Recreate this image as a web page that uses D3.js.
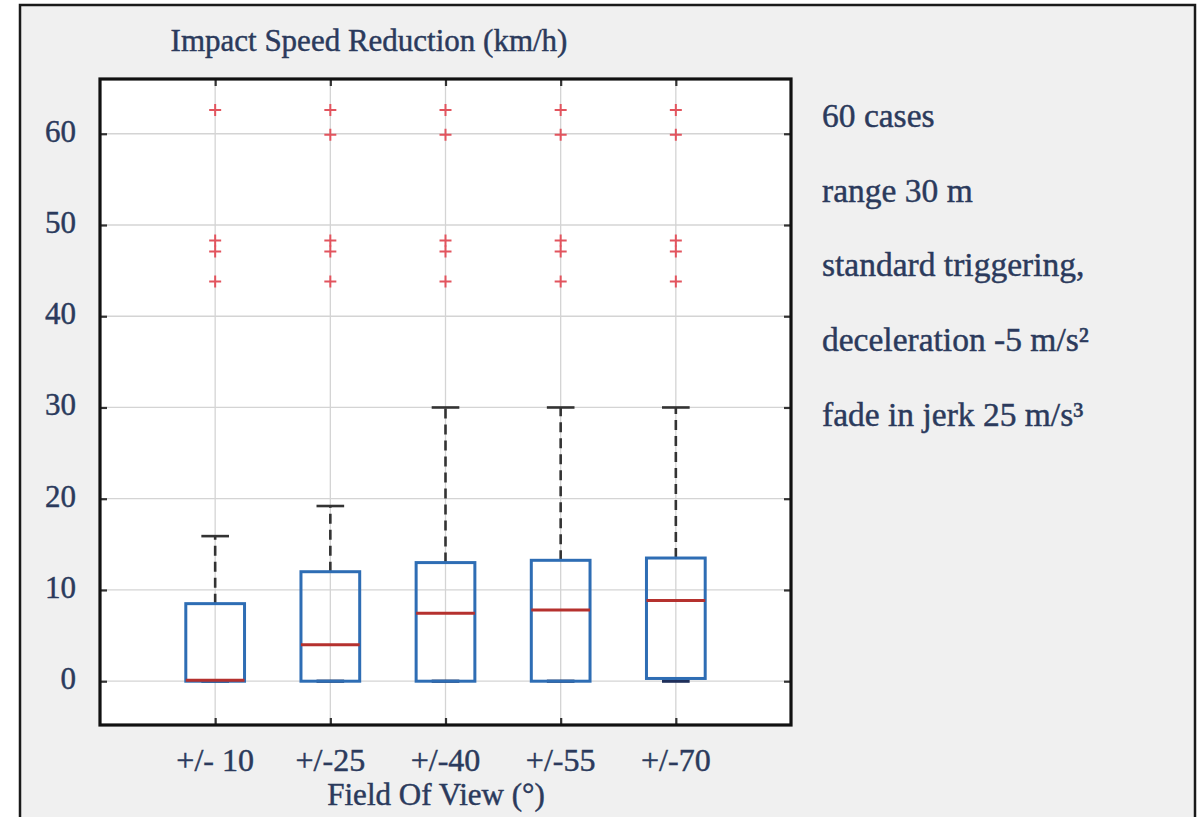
<!DOCTYPE html>
<html>
<head>
<meta charset="utf-8">
<script src="https://cdn.jsdelivr.net/npm/d3@7"></script>
<style>
  html, body { margin: 0; padding: 0; background: #ffffff; }
  svg { display: block; }
  text { font-family: "Liberation Serif", "Times New Roman", serif; fill: #2b3a5c; stroke: #2b3a5c; stroke-width: 0.45px; }
</style>
</head>
<body>
<svg id="chart" width="1203" height="817"></svg>
<script>
// ---- data ----
const categories = ["+/- 10", "+/-25", "+/-40", "+/-55", "+/-70"];
const q1Values = [0, 0, 0, 0, 0.3];
const medianValues = [0.1, 4.0, 7.45, 7.8, 8.85];
const q3Values = [8.5, 12.0, 13.0, 13.25, 13.5];
const whiskerLow = [0, 0, 0, 0, 0];
const whiskerHigh = [15.9, 19.2, 30, 30, 30];
const outlierValues = [
  [62.6, 48.3, 47.1, 43.8],
  [62.6, 59.9, 48.3, 47.1, 43.8],
  [62.6, 59.9, 48.3, 47.1, 43.8],
  [62.6, 59.9, 48.3, 47.1, 43.8],
  [62.6, 59.9, 48.3, 47.1, 43.8]
];
const yTicks = [0, 10, 20, 30, 40, 50, 60];
const titleText = "Impact Speed Reduction (km/h)";
const xLabelText = "Field Of View (°)";
const notes = ["60 cases", "range 30 m", "standard triggering,", "deceleration -5 m/s²", "fade in jerk 25 m/s³"];

// ---- layout ----
const svg = d3.select("#chart");
const plot = { left: 100, right: 791, top: 79, bottom: 725 };

// panel
svg.append("rect")
  .attr("x", 20).attr("y", 5).attr("width", 1175).attr("height", 830)
  .attr("fill", "#f0f0f0").attr("stroke", "#1a1a1a").attr("stroke-width", 2.5);

const x = d3.scalePoint().domain(categories).range([plot.left, plot.right]).padding(1);
const y = d3.scaleLinear().domain([-4.8, 66]).range([plot.bottom, plot.top]);
const step = x.step();
const boxW = step * 0.51;
const capW = step * 0.24;

// plot background
svg.append("rect")
  .attr("x", plot.left).attr("y", plot.top)
  .attr("width", plot.right - plot.left).attr("height", plot.bottom - plot.top)
  .attr("fill", "#ffffff");

// grid
const grid = svg.append("g");
grid.selectAll("line.h").data(yTicks).join("line")
  .attr("x1", plot.left).attr("x2", plot.right)
  .attr("y1", d => y(d)).attr("y2", d => y(d))
  .attr("stroke", "#d4d4d4").attr("stroke-width", 1.3);
grid.selectAll("line.v").data(categories).join("line")
  .attr("x1", d => x(d)).attr("x2", d => x(d))
  .attr("y1", plot.top).attr("y2", plot.bottom)
  .attr("stroke", "#d4d4d4").attr("stroke-width", 1.3);

// axes (inward ticks; labels drawn separately)
const axisL = d3.axisRight(y).tickValues(yTicks).tickSize(7).tickFormat("");
const axisR = d3.axisLeft(y).tickValues(yTicks).tickSize(7).tickFormat("");
const axisT = d3.axisBottom(x).tickSize(7).tickFormat("");
const axisB = d3.axisTop(x).tickSize(7).tickFormat("");
[
  [axisL, `translate(${plot.left},0)`],
  [axisR, `translate(${plot.right},0)`],
  [axisT, `translate(0,${plot.top})`],
  [axisB, `translate(0,${plot.bottom})`]
].forEach(([ax, tr]) => {
  const g = svg.append("g").attr("transform", tr).call(ax);
  g.select(".domain").remove();
  g.selectAll("line").attr("stroke", "#333").attr("stroke-width", 2.2);
});

// boxes
const data = categories.map((c, i) => ({
  c, q1: q1Values[i], med: medianValues[i], q3: q3Values[i],
  lo: whiskerLow[i], hi: whiskerHigh[i], out: outlierValues[i]
}));

const boxes = svg.append("g").selectAll("g").data(data).join("g");
// upper whisker (dashed)
boxes.append("line")
  .attr("x1", d => x(d.c)).attr("x2", d => x(d.c))
  .attr("y1", d => y(d.q3)).attr("y2", d => y(d.hi))
  .attr("stroke", "#333").attr("stroke-width", 2.6).attr("stroke-dasharray", "10,6");
// lower whisker
boxes.append("line")
  .attr("x1", d => x(d.c)).attr("x2", d => x(d.c))
  .attr("y1", d => y(d.q1)).attr("y2", d => y(d.lo))
  .attr("stroke", "#333").attr("stroke-width", 2.6).attr("stroke-dasharray", "10,6");
// caps
boxes.append("line")
  .attr("x1", d => x(d.c) - capW / 2).attr("x2", d => x(d.c) + capW / 2)
  .attr("y1", d => y(d.hi)).attr("y2", d => y(d.hi))
  .attr("stroke", "#333").attr("stroke-width", 2.6);
boxes.append("line")
  .attr("x1", d => x(d.c) - capW / 2).attr("x2", d => x(d.c) + capW / 2)
  .attr("y1", d => y(d.lo)).attr("y2", d => y(d.lo))
  .attr("stroke", "#1f2f5a").attr("stroke-width", 3.2);
// box
boxes.append("rect")
  .attr("x", d => x(d.c) - boxW / 2).attr("width", boxW)
  .attr("y", d => y(d.q3)).attr("height", d => y(d.q1) - y(d.q3))
  .attr("fill", "none").attr("stroke", "#2e6db4").attr("stroke-width", 3);
// median
boxes.append("line")
  .attr("x1", d => x(d.c) - boxW / 2).attr("x2", d => x(d.c) + boxW / 2)
  .attr("y1", d => y(d.med)).attr("y2", d => y(d.med))
  .attr("stroke", "#b5312e").attr("stroke-width", 3);
// outliers
boxes.each(function (d) {
  const g = d3.select(this);
  const s = 6;
  d.out.forEach(v => {
    g.append("path")
      .attr("d", `M${x(d.c) - s},${y(v)}H${x(d.c) + s}M${x(d.c)},${y(v) - s}V${y(v) + s}`)
      .attr("stroke", "#e2545e").attr("stroke-width", 2).attr("fill", "none");
  });
});

// frame
svg.append("rect")
  .attr("x", plot.left).attr("y", plot.top)
  .attr("width", plot.right - plot.left).attr("height", plot.bottom - plot.top)
  .attr("fill", "none").attr("stroke", "#111").attr("stroke-width", 3.2);

// y tick labels
svg.append("g").selectAll("text").data(yTicks).join("text")
  .attr("x", 76).attr("y", d => y(d) + 8)
  .attr("text-anchor", "end").attr("font-size", 31)
  .text(d => d);

// x tick labels
svg.append("g").selectAll("text").data(categories).join("text")
  .attr("x", d => x(d)).attr("y", 771)
  .attr("text-anchor", "middle").attr("font-size", 32)
  .text(d => d);

// x axis label
svg.append("text")
  .attr("x", 436).attr("y", 805).attr("text-anchor", "middle")
  .attr("font-size", 31).text(xLabelText);

// title
svg.append("text")
  .attr("x", 369).attr("y", 51).attr("text-anchor", "middle")
  .attr("font-size", 31).text(titleText);

// notes
svg.append("g").selectAll("text").data(notes).join("text")
  .attr("x", 822).attr("y", (d, i) => 127 + i * 74.7)
  .attr("font-size", 33.5).text(d => d);
</script>
</body>
</html>
